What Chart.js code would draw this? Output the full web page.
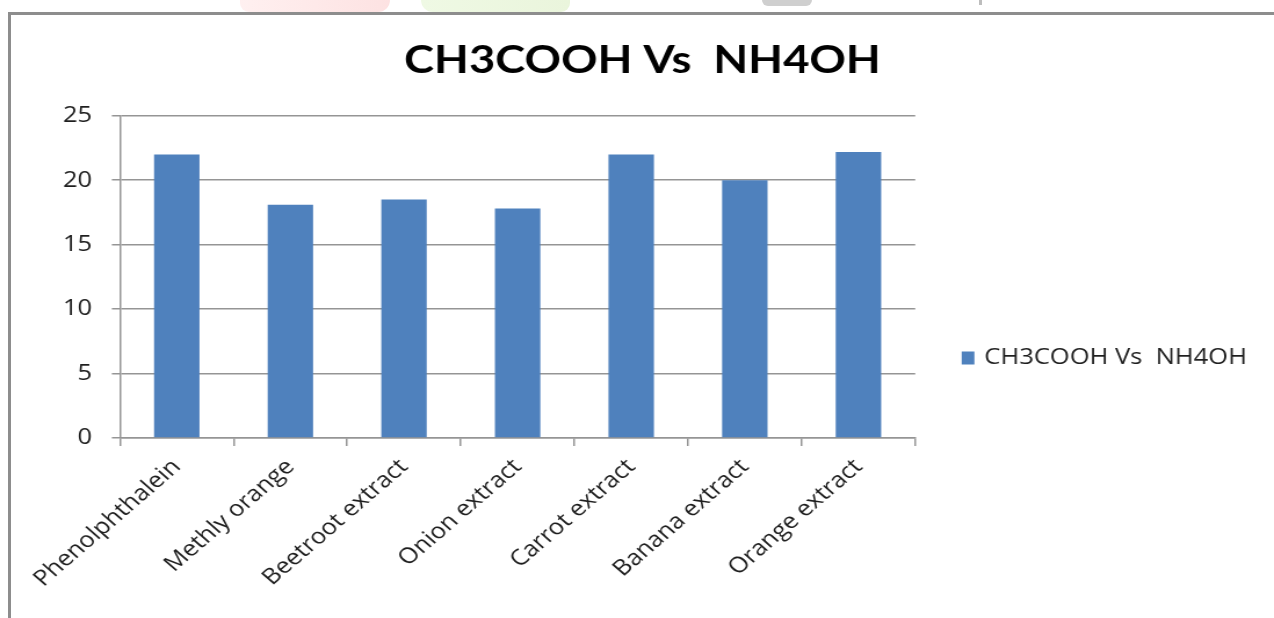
<!DOCTYPE html>
<html>
<head>
<meta charset="utf-8">
<title>CH3COOH Vs NH4OH</title>
<script src="https://cdn.jsdelivr.net/npm/chart.js@4.4.1/dist/chart.umd.min.js"></script>
<style>
  html, body { margin: 0; padding: 0; background: #ffffff; width: 1274px; height: 618px; overflow: hidden; }
  .blot { position: absolute; top: 0; }
  #blotPink { left: 240px; width: 150px; height: 12px; background: linear-gradient(90deg, #fff0f0, #fde2e2); border-radius: 0 0 40px 30px; }
  #blotGreen { left: 421px; width: 149px; height: 12px; background: linear-gradient(90deg, #eff9e4, #eaf5dc); border-radius: 0 0 30px 40px; }
  #blotGrey { left: 762px; width: 50px; height: 6px; background: #cfcfcf; border-radius: 0 0 25px 25px; }
  #blotTick { left: 979px; width: 3px; height: 5px; background: #bdbdbd; }
  #frame { position: absolute; left: 8px; top: 12px; right: -4px; bottom: -4px; border-top: 3px solid #8d8d8d; border-left: 3px solid #8d8d8d; }
  #stage { position: absolute; left: 0; top: 0; width: 1098px; height: 716px; transform: scaleX(1.16029); transform-origin: 0 0; }
  #stage canvas { display: block; }
</style>
</head>
<body>
<div class="blot" id="blotPink"></div>
<div class="blot" id="blotGreen"></div>
<div class="blot" id="blotGrey"></div>
<div class="blot" id="blotTick"></div>
<div id="frame"></div>
<div id="stage"><canvas id="chart" width="1098" height="716"></canvas></div>
<script>
// Titration end points for each indicator
const titleText = 'CH3COOH Vs  NH4OH';
const seriesName = 'CH3COOH Vs  NH4OH';
const categories = ['Phenolphthalein', 'Methly orange', 'Beetroot extract', 'Onion extract', 'Carrot extract', 'Banana extract', 'Orange extract'];
const values = [22, 18.1, 18.5, 17.8, 22, 20, 22.2];
const yTicks = [0, 5, 10, 15, 20, 25];

const gridGrey = '#959595';
const textColor = '#1e1e1e';
const baseFont = 'Open Sans';

// Legend to the right of the plot, built from the library's own legend items
const sideLegend = {
  id: 'sideLegend',
  afterDraw(chart) {
    const items = chart.options.plugins.legend.labels.generateLabels(chart);
    const ctx = chart.ctx;
    const x = chart.chartArea.right + 40;
    let y = 358;
    ctx.save();
    ctx.font = '22px "' + baseFont + '"';
    ctx.textBaseline = 'middle';
    ctx.textAlign = 'left';
    items.forEach(item => {
      ctx.fillStyle = item.fillStyle;
      ctx.fillRect(x, y - 6.5, 11, 13);
      ctx.fillStyle = textColor;
      ctx.fillText(item.text, x + 19.5, y);
      y += 30;
    });
    ctx.restore();
  }
};

new Chart(document.getElementById('chart'), {
  type: 'bar',
  data: {
    labels: categories,
    datasets: [{
      label: seriesName,
      data: values,
      backgroundColor: '#4F81BD',
      borderWidth: 0,
      barPercentage: 0.4,
      categoryPercentage: 1.0
    }]
  },
  plugins: [sideLegend],
  options: {
    responsive: false,
    animation: false,
    layout: { padding: { left: 43.4, right: 34, top: 0, bottom: 0 } },
    plugins: {
      title: {
        display: true,
        text: titleText,
        color: '#000000',
        font: { family: 'Lato', weight: 'bold', size: 39 },
        padding: { top: 37, bottom: 32 }
      },
      legend: { display: false },
      tooltip: { enabled: false }
    },
    scales: {
      x: {
        grid: { display: true, drawOnChartArea: false, drawTicks: true, tickLength: 8, color: gridGrey, lineWidth: 1.5 },
        border: { display: true, color: gridGrey, width: 1.5 },
        ticks: {
          autoSkip: false,
          minRotation: 45,
          maxRotation: 45,
          padding: 8,
          color: textColor,
          font: { family: baseFont, size: 22 }
        },
        afterFit(scale) {
          scale.height = 278;
          scale.paddingLeft = 0;
          scale.paddingRight = 309.2;
        }
      },
      y: {
        min: 0,
        max: 25,
        grid: { color: gridGrey, lineWidth: 1.5, tickLength: 7 },
        border: { display: true, color: gridGrey, width: 1.5 },
        ticks: {
          padding: 17,
          color: textColor,
          font: { family: baseFont, size: 22 }
        },
        afterBuildTicks(scale) {
          scale.ticks = yTicks.map(v => ({ value: v }));
        },
        afterFit(scale) {
          scale.width = 60;
          scale.paddingTop = 0;
          scale.paddingBottom = 0;
        }
      }
    }
  }
});
</script>
</body>
</html>
